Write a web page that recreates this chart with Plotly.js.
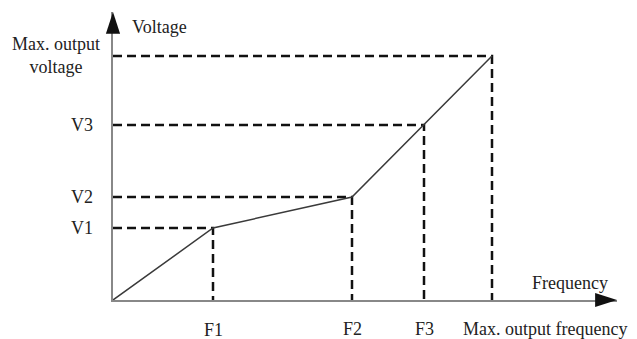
<!DOCTYPE html>
<html>
<head>
<meta charset="utf-8">
<script src="https://cdn.plot.ly/plotly-3.0.1.min.js"></script>
<style>html,body{margin:0;padding:0;background:#fff;}#chart{width:637px;height:339px;}</style>
</head>
<body>
<div id="chart"></div>
<script>
// Data (arbitrary units)
const freqLabels = ['F1', 'F2', 'F3', 'Max. output frequency'];
const freqValues = [100, 239, 311, 379];
const voltLabels = ['V1', 'V2', 'V3', 'Max. output<br>voltage'];
const voltValues = [72, 103, 175, 244];
const xAxisMax = 504;
const yAxisMax = 288;
const xAxisName = 'Frequency';
const yAxisName = 'Voltage';

const FONT = '"Liberation Serif", "DejaVu Serif", serif';
const FS = 18;

// curve through origin and the four (F, V) points
const curveX = [0].concat(freqValues);
const curveY = [0].concat(voltValues);

// dashed guides
const gx = [], gy = [];
for (let i = 0; i < freqValues.length; i++) {
  gx.push(0, freqValues[i], freqValues[i], null);
  gy.push(voltValues[i], voltValues[i], 0, null);
}

const traces = [
  {x: gx, y: gy, mode: 'lines', line: {color: '#111', width: 2.5, dash: '9px,5px'}, hoverinfo: 'skip', cliponaxis: false},
  {x: curveX, y: curveY, mode: 'lines', line: {color: '#3a3a3a', width: 1.5}, hoverinfo: 'skip'},
  {x: [xAxisMax, 0], y: [0, yAxisMax], mode: 'markers', cliponaxis: false, hoverinfo: 'skip',
   marker: {symbol: 'arrow', size: 23, angle: [90, 0], color: '#111', line: {width: 0}}}
];

const annotations = [];
freqLabels.forEach((t, i) => {
  const last = i === freqLabels.length - 1;
  annotations.push({xref: 'x', yref: 'paper', x: freqValues[i], y: 0, yshift: i === 0 ? -30 : -29,
    xshift: last ? -31 : 0,
    xanchor: last ? 'left' : 'center', yanchor: 'middle', text: t, showarrow: false,
    font: {family: FONT, size: FS, color: '#222'}});
});
voltLabels.forEach((t, i) => {
  const multi = t.indexOf('<br>') >= 0;
  annotations.push({xref: 'paper', yref: 'y', x: 0, y: voltValues[i], xshift: multi ? -57 : -31,
    yshift: multi ? 1 : 0,
    xanchor: 'center', yanchor: 'middle', text: t, showarrow: false,
    font: {family: FONT, size: FS, color: '#222'}});
});
annotations.push({xref: 'paper', yref: 'paper', x: 0, y: 1, xshift: 17, yshift: -15,
  xanchor: 'left', yanchor: 'middle', text: yAxisName, showarrow: false,
  font: {family: FONT, size: FS, color: '#222'}});
annotations.push({xref: 'paper', yref: 'paper', x: 1, y: 0, xshift: -47, yshift: 17,
  xanchor: 'center', yanchor: 'middle', text: xAxisName, showarrow: false,
  font: {family: FONT, size: FS, color: '#222'}});

const layout = {
  width: 637, height: 339,
  margin: {l: 113, r: 20, t: 12, b: 39, pad: 0},
  paper_bgcolor: '#fff', plot_bgcolor: '#fff',
  showlegend: false,
  xaxis: {range: [0, xAxisMax], showgrid: false, zeroline: false, showticklabels: false, ticks: '',
    showline: true, linecolor: '#888', linewidth: 2, layer: 'below traces', fixedrange: true},
  yaxis: {range: [0, yAxisMax], showgrid: false, zeroline: false, showticklabels: false, ticks: '',
    showline: true, linecolor: '#888', linewidth: 2, layer: 'below traces', fixedrange: true},
  annotations: annotations
};

Plotly.newPlot('chart', traces, layout, {staticPlot: true, displayModeBar: false});
</script>
</body>
</html>
